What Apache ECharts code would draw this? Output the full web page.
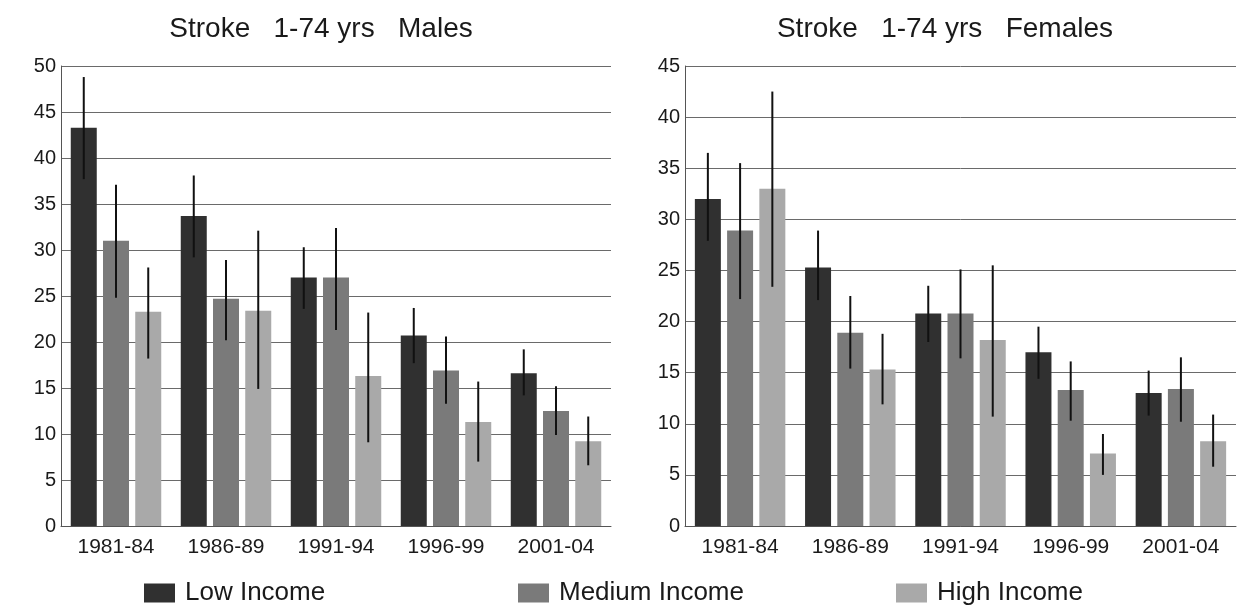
<!DOCTYPE html>
<html>
<head>
<meta charset="utf-8">
<script src="https://cdn.jsdelivr.net/npm/echarts@6/dist/echarts.min.js"></script>
<style>
html,body{margin:0;padding:0;background:#fff;}
#chart{width:1252px;height:609px;}
</style>
</head>
<body>
<div id="chart"></div>
<script>
const categories = ['1981-84', '1986-89', '1991-94', '1996-99', '2001-04'];
const seriesNames = ['Low Income', 'Medium Income', 'High Income'];

const maleLow = [43.3, 33.7, 27.0, 20.7, 16.6];
const maleLowCI = [[37.7, 48.8], [29.2, 38.1], [23.6, 30.3], [17.7, 23.7], [14.2, 19.2]];
const maleMed = [31.0, 24.7, 27.0, 16.9, 12.5];
const maleMedCI = [[24.8, 37.1], [20.2, 28.9], [21.3, 32.4], [13.3, 20.6], [9.9, 15.2]];
const maleHigh = [23.3, 23.4, 16.3, 11.3, 9.2];
const maleHighCI = [[18.2, 28.1], [14.9, 32.1], [9.1, 23.2], [7.0, 15.7], [6.6, 11.9]];

const femaleLow = [32.0, 25.3, 20.8, 17.0, 13.0];
const femaleLowCI = [[27.9, 36.5], [22.1, 28.9], [18.0, 23.5], [14.4, 19.5], [10.8, 15.2]];
const femaleMed = [28.9, 18.9, 20.8, 13.3, 13.4];
const femaleMedCI = [[22.2, 35.5], [15.4, 22.5], [16.4, 25.1], [10.3, 16.1], [10.2, 16.5]];
const femaleHigh = [33.0, 15.3, 18.2, 7.1, 8.3];
const femaleHighCI = [[23.4, 42.5], [11.9, 18.8], [10.7, 25.5], [5.0, 9.0], [5.8, 10.9]];

const maleYTicks = {min: 0, max: 50, interval: 5};
const femaleYTicks = {min: 0, max: 45, interval: 5};

const colors = ['#303030', '#7a7a7a', '#a9a9a9'];
const FONT = 'Liberation Sans, Arial, sans-serif';
const BAR_W = 26;
const BAR_GAP = 0.24;

const chart = echarts.init(document.getElementById('chart'), null, {renderer: 'canvas'});

function yAxis(idx, t) {
  return {
    type: 'value', gridIndex: idx, min: t.min, max: t.max, interval: t.interval,
    axisLine: {show: true, lineStyle: {color: '#555', width: 1}},
    axisTick: {show: false},
    axisLabel: {color: '#1a1a1a', fontSize: 20, fontFamily: FONT, margin: 5},
    splitLine: {lineStyle: {color: '#6a6a6a', width: 1}}
  };
}
function xAxis(idx) {
  return {
    type: 'category', gridIndex: idx, data: categories,
    axisLine: {show: true, lineStyle: {color: '#555', width: 1}},
    axisTick: {show: false},
    axisLabel: {color: '#1a1a1a', fontSize: 21, fontFamily: FONT, margin: 11}
  };
}

function barSeries(idx, name, data, color) {
  return {
    type: 'bar', name: name, xAxisIndex: idx, yAxisIndex: idx,
    data: data, barWidth: BAR_W, barGap: (BAR_GAP * 100) + '%',
    itemStyle: {color: color}, z: 2
  };
}
function errSeries(idx, name, ci, pos) {
  return {
    type: 'custom', name: name, xAxisIndex: idx, yAxisIndex: idx,
    data: ci.map((c, i) => [i, c[0], c[1]]),
    encode: {x: 0, y: [1, 2]},
    z: 5, silent: true,
    renderItem: function (params, api) {
      const x = api.value(0);
      const lo = api.coord([x, api.value(1)]);
      const hi = api.coord([x, api.value(2)]);
      const off = (pos - 1) * BAR_W * (1 + BAR_GAP);
      return {
        type: 'line',
        shape: {x1: lo[0] + off, y1: lo[1], x2: hi[0] + off, y2: hi[1]},
        style: {stroke: '#111', lineWidth: 2}
      };
    }
  };
}

function legend(name, left) {
  return {
    data: [name], left: left, top: 580, itemWidth: 31, itemHeight: 19,
    icon: 'rect', padding: 0,
    textStyle: {color: '#1a1a1a', fontSize: 26, fontFamily: FONT, padding: [0, 0, 0, 5]}
  };
}

const option = {
  backgroundColor: '#fff',
  animation: false,
  color: colors,
  title: [
    {text: 'Stroke   1-74 yrs   Males', left: 321, top: 15, textAlign: 'center', padding: 0,
     textStyle: {color: '#1a1a1a', fontSize: 28, fontWeight: 'normal', fontFamily: FONT}},
    {text: 'Stroke   1-74 yrs   Females', left: 945, top: 15, textAlign: 'center', padding: 0,
     textStyle: {color: '#1a1a1a', fontSize: 28, fontWeight: 'normal', fontFamily: FONT}}
  ],
  legend: [legend(seriesNames[0], 144), legend(seriesNames[1], 518), legend(seriesNames[2], 896)],
  grid: [
    {left: 61, right: 641, top: 66, bottom: 83},
    {left: 685, right: 16, top: 66, bottom: 83}
  ],
  xAxis: [xAxis(0), xAxis(1)],
  yAxis: [yAxis(0, maleYTicks), yAxis(1, femaleYTicks)],
  series: [
    barSeries(0, seriesNames[0], maleLow, colors[0]),
    barSeries(0, seriesNames[1], maleMed, colors[1]),
    barSeries(0, seriesNames[2], maleHigh, colors[2]),
    barSeries(1, seriesNames[0], femaleLow, colors[0]),
    barSeries(1, seriesNames[1], femaleMed, colors[1]),
    barSeries(1, seriesNames[2], femaleHigh, colors[2]),
    errSeries(0, 'err-m-low', maleLowCI, 0),
    errSeries(0, 'err-m-med', maleMedCI, 1),
    errSeries(0, 'err-m-high', maleHighCI, 2),
    errSeries(1, 'err-f-low', femaleLowCI, 0),
    errSeries(1, 'err-f-med', femaleMedCI, 1),
    errSeries(1, 'err-f-high', femaleHighCI, 2)
  ]
};
chart.setOption(option);
</script>
</body>
</html>
